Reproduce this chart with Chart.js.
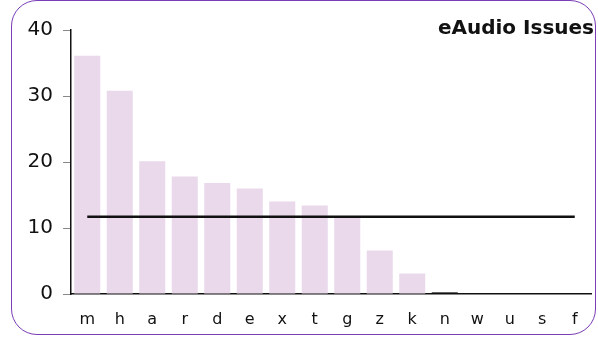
<!DOCTYPE html>
<html>
<head>
<meta charset="utf-8">
<script src="https://cdn.jsdelivr.net/npm/chart.js@4.4.0/dist/chart.umd.min.js"></script>
<style>
  html, body { margin: 0; padding: 0; background: #fff; }
  #wrap { position: relative; width: 598px; height: 344px; }
  #frame {
    position: absolute; left: 11px; top: 0px; width: 583px; height: 333px;
    border: 1.8px solid #7a3db6; border-radius: 26px; pointer-events: none;
  }
  canvas { position: absolute; left: 0; top: 0; }
</style>
</head>
<body>
<div id="wrap">
  <div id="frame"></div>
  <canvas id="chart" width="598" height="344"></canvas>
</div>
<script>
// issue counts per category
const categories = ["m", "h", "a", "r", "d", "e", "x", "t", "g", "z", "k", "n", "w", "u", "s", "f"]
const issueCounts = [36.1, 30.8, 20.1, 17.8, 16.8, 16.0, 14.0, 13.4, 11.5, 6.6, 3.1, 0.25, 0, 0, 0, 0]
const averageValue = 11.7
const yTicks = [0, 10, 20, 30, 40]
const chartTitle = "eAudio Issues"

const FONT = "'DejaVu Sans', Verdana, sans-serif"

const titlePlugin = {
    id: "cornerTitle",
    afterDraw: (chart) => {
        const ctx = chart.ctx
        ctx.save()
        ctx.font = `bold 20px ${FONT}`
        ctx.fillStyle = "#111"
        ctx.textAlign = "right"
        ctx.textBaseline = "middle"
        ctx.fillText(chartTitle, 594, 29)
        ctx.restore()
    },
}

new Chart(document.getElementById("chart"), {
    data: {
        labels: categories,
        datasets: [
            {
                type: "line",
                label: "Average",
                data: categories.map(() => averageValue),
                borderColor: "#111",
                borderWidth: 2.5,
                pointRadius: 0,
                order: 0,
            },
            {
                type: "bar",
                label: "Issues",
                data: issueCounts,
                backgroundColor: (c) => (c.dataIndex === 11 ? "#111" : "#ead8eb"),
                barPercentage: 0.8,
                categoryPercentage: 1.0,
                order: 1,
            },
        ],
    },
    options: {
        responsive: false,
        animation: false,
        layout: {
            padding: { top: 30, right: 7, bottom: 8, left: 0 },
        },
        plugins: {
            legend: { display: false },
            title: { display: false },
            tooltip: { enabled: false },
        },
        scales: {
            x: {
                grid: { display: false },
                border: { color: "#111", width: 1.5 },
                ticks: {
                    color: "#111",
                    font: { family: FONT, size: 16 },
                    padding: 8,
                    maxRotation: 0,
                    autoSkip: false,
                },
                afterFit: (scale) => {
                    scale.height = 42
                },
            },
            y: {
                min: 0,
                max: 40,
                afterBuildTicks: (scale) => {
                    scale.ticks = yTicks.map((v) => ({ value: v }))
                },
                grid: {
                    drawOnChartArea: false,
                    drawTicks: true,
                    tickLength: 8,
                    color: "#888",
                },
                border: { color: "#111", width: 1.5 },
                ticks: {
                    color: "#111",
                    font: { family: FONT, size: 20 },
                    padding: 10,
                },
                afterFit: (scale) => {
                    scale.width = 71
                },
            },
        },
    },
    plugins: [titlePlugin],
})
</script>
</body>
</html>
